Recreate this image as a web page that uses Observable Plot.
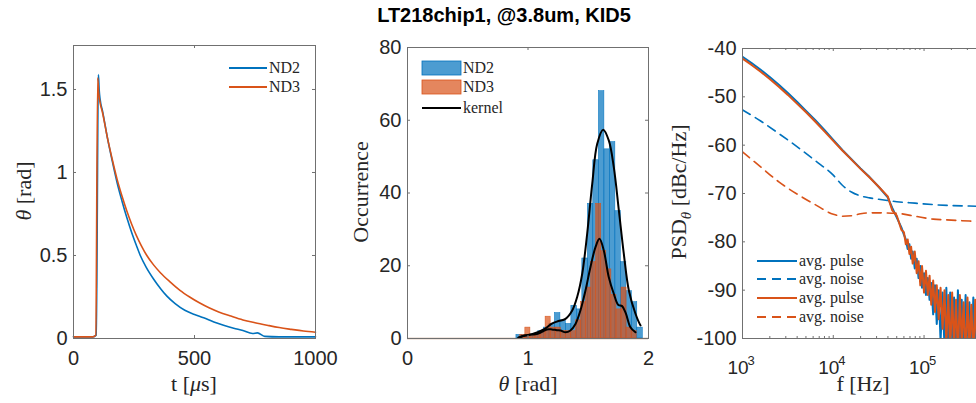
<!DOCTYPE html>
<html><head><meta charset="utf-8">
<script src="https://cdn.jsdelivr.net/npm/d3@7"></script>
<script src="https://cdn.jsdelivr.net/npm/@observablehq/plot@0.6"></script>
<style>
html,body{margin:0;padding:0;background:#fff;}
#root{position:relative;width:976px;height:403px;overflow:hidden;background:#fff;}
#title{position:absolute;left:0;top:4px;width:1008px;text-align:center;font:bold 20px "Liberation Sans",Arial,sans-serif;color:#000;}
.panel{position:absolute;top:0;}
</style></head><body><div id="root"></div>
<script>
// ---------------- data ----------------
// Panel 1: time traces
const tND2 = [0,40,80,94,103,106,110,120,140,160,180,200,220,240,260,276,300,330,360,386,420,460,500,538,580,620,662,700,740,760,790,850,900,950,1000];
const thetaND2 = [0.01,0.01,0.01,0.02,1.59,1.50,1.44,1.37,1.21,1.07,0.94,0.83,0.73,0.64,0.56,0.50,0.43,0.36,0.30,0.255,0.21,0.17,0.145,0.125,0.10,0.08,0.062,0.048,0.030,0.034,0.013,0.01,0.01,0.01,0.01];
const tND3 = [0,40,80,92,100,104,110,120,140,160,180,200,220,240,260,280,303,330,360,400,440,480,520,560,600,650,700,750,800,850,900,950,1000];
const thetaND3 = [0.01,0.01,0.01,0.02,1.57,1.48,1.42,1.36,1.21,1.08,0.96,0.86,0.77,0.69,0.62,0.56,0.50,0.445,0.395,0.34,0.29,0.25,0.215,0.185,0.16,0.135,0.112,0.095,0.08,0.066,0.055,0.045,0.038];
const xTicks1 = [0,500,1000];
const yTicks1 = [0,0.5,1,1.5];

// Panel 2: histograms (bin edges and counts) and kernel fits
const edgesND2 = [0.904,0.950,0.995,1.041,1.086,1.132,1.178,1.223,1.269,1.314,1.360,1.406,1.451,1.497,1.542,1.588,1.634,1.679,1.725,1.770,1.816,1.862,1.907,1.953];
const countsND2 = [1,1,1,1,2,3,4,7,5,4,9,8,22,37,49,68,52,54,35,21,13,10,3];
const edgesND3 = [0.936,0.978,1.020,1.062,1.104,1.146,1.188,1.230,1.272,1.314,1.356,1.398,1.440,1.482,1.524,1.566,1.608,1.650,1.692,1.734,1.776,1.818,1.860,1.902];
const countsND3 = [1,3,1,1,2,6,3,3,2,2,2,5,10,14,21,37,24,19,12,8,14,3,2];
const kernThetaND2 = [0.921,0.976,1.032,1.087,1.142,1.198,1.253,1.311,1.367,1.408,1.450,1.491,1.533,1.574,1.624,1.671,1.712,1.754,1.795,1.837,1.892,1.934];
const kernND2 = [0.2,0.8,1.2,1.8,2.7,4.1,4.8,5.4,7.7,11.4,17.8,28.8,42.5,53.5,57.4,54.4,47.1,35.2,23.3,13.2,6.8,3.6];
const kernThetaND3 = [0.921,0.976,1.032,1.073,1.115,1.156,1.198,1.239,1.270,1.311,1.352,1.394,1.435,1.477,1.518,1.560,1.593,1.629,1.670,1.712,1.750,1.781,1.812,1.850,1.892];
const kernND3 = [0.2,0.8,1.1,1.2,1.8,2.5,2.5,2.3,2.2,1.7,2.2,4.0,7.7,13.2,19.6,25.1,27.4,24.2,16.9,12.3,9.2,8.9,6.9,3.1,1.7];
const xTicks2 = [0,1,2];
const yTicks2 = [0,20,40,60,80];

// Panel 3: PSDs
const fPulse = [1000,1259,1585,1995,2512,3162,3981,5012,6310,7943,10000,12589,15849,19953,25119,31623,39811,44668,50119,56234,
  60000,63000,66000,69000,72000,75000,79000,83000,87000,91000,95000,100000,105000,110000,115000,120000,126000,132000,138000,145000,
  152000,160000,168000,176000,185000,194000,204000,214000,225000,236000,248000,260000,273000,287000,301000,316000,332000,349000,366000,385000,
  404000,424000,445000,467000,490000,515000];
const pulseND2 = [-41.7,-43.0,-44.4,-45.9,-47.5,-49.2,-51.0,-52.9,-54.8,-56.8,-58.9,-61.0,-62.9,-64.8,-66.6,-68.6,-70.8,-73.0,-75.0,-77.0,
  -78.5,-79.5,-81.5,-80.5,-83.5,-82.0,-85.5,-83.5,-87.5,-85.0,-89.5,-86.5,-91.0,-87.5,-92.0,-88.5,-95.0,-89.0,-97.0,-90.0,
  -100.5,-90.5,-102,-89.5,-104,-90.5,-103,-91.5,-105,-90.0,-102,-92.0,-104,-91.0,-103,-92.5,-105,-91.5,-102,-92.0,
  -104,-91.0,-103,-92.0,-105,-92.5];
const pulseND3 = [-42.1,-43.4,-44.8,-46.3,-47.9,-49.6,-51.4,-53.2,-55.1,-57.1,-59.1,-61.1,-63.0,-64.9,-66.7,-68.6,-70.6,-73.5,-74.6,-77.5,
  -78.0,-80.5,-79.5,-82.5,-81.0,-84.5,-82.0,-86.5,-84.0,-89.0,-85.0,-90.5,-86.0,-91.0,-87.0,-93.0,-88.0,-94.5,-89.0,-96.0,
  -89.5,-98.0,-90.0,-101.0,-91.0,-103.0,-90.5,-102.0,-92.0,-104.0,-91.0,-101.0,-92.5,-105.0,-91.5,-102.0,-93.0,-104.0,-92.0,-103.0,
  -93.5,-105.0,-92.5,-102.5,-93.0,-104.0];
const fNoise = [1000,1585,2512,3981,6310,10000,12589,15849,19953,25119,31623,50119,79433,125893,199526,316228,501187];
const noiseND2 = [-52.7,-55.0,-57.6,-60.3,-63.2,-66.2,-68.3,-69.7,-70.5,-70.9,-71.2,-71.7,-72.0,-72.3,-72.5,-72.6,-72.7];
const noiseND3 = [-61.4,-64.5,-67.6,-70.1,-72.3,-74.3,-74.7,-74.6,-74.2,-74.0,-74.0,-74.1,-74.7,-75.3,-75.5,-75.7,-75.8];
const xTicks3 = [1000,10000,100000];
const xTickExp3 = ["3","4","5"];
const xMinor3 = [2000,3000,4000,5000,6000,7000,8000,9000,20000,30000,40000,50000,60000,70000,80000,90000,200000,300000,400000,500000];
const yTicks3 = [-100,-90,-80,-70,-60,-50,-40];

// ---------------- helpers ----------------
const SANS = '"Liberation Sans", Arial, Helvetica, sans-serif';
const SERIF = '"Liberation Serif", "Times New Roman", serif';
const BLUE = "#0072BD", ORANGE = "#D95319", AX = "#707070", TXT = "#262626";
const zip = (xs, ys, kx, ky) => xs.map((x, i) => ({[kx]: x, [ky]: ys[i]}));
const bins = (edges, counts) => counts.map((n, i) => ({x1: edges[i], x2: edges[i + 1], n}));

function ticksIn(xt, yt, FW, FH, len = 3) {
  return [
    Plot.ruleX(xt, {x: d => d, insetTop: FH - len, stroke: AX}),
    Plot.ruleX(xt, {x: d => d, insetBottom: FH - len, stroke: AX}),
    Plot.ruleY(yt, {y: d => d, insetRight: FW - len, stroke: AX}),
    Plot.ruleY(yt, {y: d => d, insetLeft: FW - len, stroke: AX})
  ];
}
function addText(svg, x, y, rotate, parts, size = 22, anchor = "middle", family = SERIF) {
  const t = d3.select(svg).append("text")
    .attr("transform", `translate(${x},${y})` + (rotate ? ` rotate(${rotate})` : ""))
    .attr("text-anchor", anchor).attr("font-family", family).attr("font-size", size)
    .attr("fill", TXT).attr("style", "white-space:pre");
  for (const p of parts) {
    const s = t.append("tspan").text(p.t);
    if (p.i) s.attr("font-style", "italic");
    if (p.dy) s.attr("dy", p.dy);
    if (p.fs) s.attr("font-size", p.fs);
  }
  return t;
}
function legLine(svg, x1, x2, y, color, dash, label, w = 2) {
  const g = d3.select(svg);
  g.append("line").attr("x1", x1).attr("x2", x2).attr("y1", y).attr("y2", y)
    .attr("stroke", color).attr("stroke-width", w).attr("stroke-dasharray", dash || null);
  addText(svg, x2 + 2, y + 5, 0, [{t: label}], 16, "start");
}
const root = document.getElementById("root");
function place(svg, left) { svg.classList.add("panel"); svg.style.left = left + "px"; root.appendChild(svg); }
const baseStyle = {fontFamily: SANS, fontSize: "20px", color: TXT, background: "transparent", overflow: "visible"};

// ---------------- panel 1 ----------------
{
  const mt = 45, mb = 65, ml = 73, mr = 15, W = 330, H = 403;
  const FW = W - ml - mr, FH = H - mt - mb;
  const svg = Plot.plot({
    width: W, height: H, marginTop: mt, marginBottom: mb, marginLeft: ml, marginRight: mr,
    style: baseStyle,
    x: {domain: [0, 1000]}, y: {domain: [0, 1.765]},
    marks: [
      Plot.line(zip(tND2, thetaND2, "t", "v"), {x: "t", y: "v", stroke: BLUE, strokeWidth: 1.6, curve: "monotone-x"}),
      Plot.line(zip(tND3, thetaND3, "t", "v"), {x: "t", y: "v", stroke: ORANGE, strokeWidth: 1.6, curve: "monotone-x"}),
      Plot.frame({stroke: AX}),
      ...ticksIn(xTicks1, yTicks1, FW, FH),
      Plot.axisX(xTicks1, {tickSize: 0, tickPadding: 12, label: null, fontSize: 20, fill: TXT, tickFormat: d => String(d)}),
      Plot.axisY(yTicks1, {tickSize: 0, tickPadding: 6, label: null, fontSize: 20, fill: TXT, tickFormat: d => String(d)})
    ]
  });
  addText(svg, 194, 391, 0, [{t: "t ["}, {t: "μ", i: 1}, {t: "s]"}]);
  addText(svg, 31, 191, -90, [{t: "θ", i: 1}, {t: " [rad]"}]);
  legLine(svg, 229, 267, 68, BLUE, null, "ND2");
  legLine(svg, 229, 267, 87, ORANGE, null, "ND3");
  place(svg, 0);
}

// ---------------- panel 2 ----------------
{
  const mt = 47, mb = 65, ml = 77, mr = 12, W = 330, H = 403;
  const FW = W - ml - mr, FH = H - mt - mb;
  const svg = Plot.plot({
    width: W, height: H, marginTop: mt, marginBottom: mb, marginLeft: ml, marginRight: mr,
    style: baseStyle,
    x: {domain: [0, 2]}, y: {domain: [0, 80]},
    marks: [
      Plot.ruleY([0], {stroke: "#c49a85", strokeWidth: 1.5}),
      Plot.rect(bins(edgesND2, countsND2), {x1: "x1", x2: "x2", y1: 0, y2: "n", fill: BLUE, fillOpacity: 0.7, stroke: BLUE, strokeWidth: 0.5}),
      Plot.rect(bins(edgesND3, countsND3), {x1: "x1", x2: "x2", y1: 0, y2: "n", fill: ORANGE, fillOpacity: 0.7, stroke: ORANGE, strokeWidth: 0.5}),
      Plot.line(zip(kernThetaND2, kernND2, "x", "y"), {x: "x", y: "y", stroke: "#000", strokeWidth: 2, curve: "catmull-rom"}),
      Plot.line(zip(kernThetaND3, kernND3, "x", "y"), {x: "x", y: "y", stroke: "#000", strokeWidth: 2, curve: "catmull-rom"}),
      Plot.frame({stroke: AX}),
      ...ticksIn(xTicks2, yTicks2, FW, FH),
      Plot.axisX(xTicks2, {tickSize: 0, tickPadding: 12, label: null, fontSize: 20, fill: TXT, tickFormat: d => String(d)}),
      Plot.axisY(yTicks2, {tickSize: 0, tickPadding: 6, label: null, fontSize: 20, fill: TXT, tickFormat: d => String(d)})
    ]
  });
  addText(svg, 198, 391, 0, [{t: "θ", i: 1}, {t: " [rad]"}]);
  addText(svg, 38, 192, -90, [{t: "Occurrence"}]);
  const g = d3.select(svg);
  g.append("rect").attr("x", 92).attr("y", 61).attr("width", 39).attr("height", 14)
    .attr("fill", BLUE).attr("fill-opacity", 0.7).attr("stroke", BLUE).attr("stroke-width", 0.8);
  g.append("rect").attr("x", 92).attr("y", 80).attr("width", 39).attr("height", 14)
    .attr("fill", ORANGE).attr("fill-opacity", 0.7).attr("stroke", ORANGE).attr("stroke-width", 0.8);
  addText(svg, 133, 73, 0, [{t: "ND2"}], 16, "start");
  addText(svg, 133, 92, 0, [{t: "ND3"}], 16, "start");
  legLine(svg, 92, 131, 108, "#000", null, "kernel");
  place(svg, 330);
}

// ---------------- panel 3 ----------------
{
  const mt = 48, mb = 65, ml = 82, mr = 13, W = 340, H = 403;
  const FW = W - ml - mr, FH = H - mt - mb;
  const svg = Plot.plot({
    width: W, height: H, marginTop: mt, marginBottom: mb, marginLeft: ml, marginRight: mr,
    style: baseStyle,
    x: {type: "log", domain: [1000, 500000], axis: null}, y: {domain: [-100, -40]},
    marks: [
      Plot.line(zip(fPulse, pulseND2, "f", "p"), {x: "f", y: "p", stroke: BLUE, strokeWidth: 2, clip: true}),
      Plot.line(zip(fNoise, noiseND2, "f", "p"), {x: "f", y: "p", stroke: BLUE, strokeWidth: 1.6, strokeDasharray: "9,6", curve: "monotone-x", clip: true}),
      Plot.line(zip(fPulse, pulseND3, "f", "p"), {x: "f", y: "p", stroke: ORANGE, strokeWidth: 2, clip: true}),
      Plot.line(zip(fNoise, noiseND3, "f", "p"), {x: "f", y: "p", stroke: ORANGE, strokeWidth: 1.6, strokeDasharray: "9,6", curve: "monotone-x", clip: true}),
      Plot.frame({stroke: AX}),
      ...ticksIn(xTicks3, yTicks3, FW, FH),
      Plot.ruleX(xMinor3, {x: d => d, insetTop: FH - 2, stroke: AX}),
      Plot.ruleX(xMinor3, {x: d => d, insetBottom: FH - 2, stroke: AX}),
      Plot.text(xTicks3, {x: d => d, text: () => "10", frameAnchor: "bottom", lineAnchor: "top", textAnchor: "middle", dx: -4.5, dy: 22, fontSize: 19, fill: TXT}),
      Plot.text(xTicks3, {x: d => d, text: (d, i) => xTickExp3[i], frameAnchor: "bottom", lineAnchor: "top", textAnchor: "start", dx: 5, dy: 17, fontSize: 13, fill: TXT}),
      Plot.axisY(yTicks3, {tickSize: 0, tickPadding: 6, label: null, fontSize: 20, fill: TXT, tickFormat: d => String(d)})
    ]
  });
  addText(svg, 203, 391, 0, [{t: "f [Hz]"}]);
  addText(svg, 26, 192, -90, [{t: "PSD"}, {t: "θ", i: 1, dy: 5, fs: 15}, {t: " [dBc/Hz]", dy: -5}]);
  legLine(svg, 97, 137, 261, BLUE, null, "avg. pulse");
  legLine(svg, 97, 137, 279, BLUE, "9,6", "avg. noise");
  legLine(svg, 97, 137, 298, ORANGE, null, "avg. pulse");
  legLine(svg, 97, 137, 317, ORANGE, "9,6", "avg. noise");
  place(svg, 660);
}

const title = document.createElement("div");
title.id = "title";
title.textContent = "LT218chip1, @3.8um, KID5";
root.appendChild(title);
</script>
</body></html>
